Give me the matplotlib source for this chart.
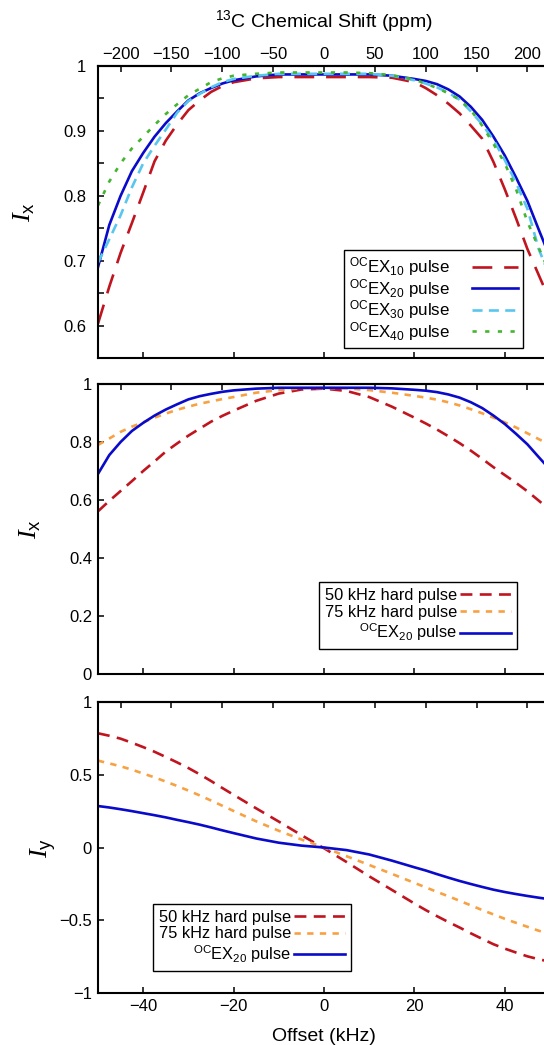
import matplotlib
matplotlib.use("Agg")
import matplotlib.pyplot as plt
from matplotlib.ticker import MultipleLocator, FixedLocator, NullFormatter

plt.rcParams['font.family'] = ['Liberation Sans', 'DejaVu Sans']
plt.rcParams['mathtext.fontset'] = 'custom'
plt.rcParams['mathtext.rm'] = 'Liberation Sans'
plt.rcParams['mathtext.it'] = 'Liberation Serif:italic'
plt.rcParams['mathtext.default'] = 'rm'

# ---------------- data ----------------
offset_khz = [-50, -47.5, -45, -42.5, -40, -37.5, -35, -32.5, -30, -27.5, -25, -22.5, -20,
              -15, -10, -5, 0, 5, 10, 15,
              20, 22.5, 25, 27.5, 30, 32.5, 35, 37.5, 40, 42.5, 45, 47.5, 50]

# panel 1 : Ix of OCEX pulses
ocex10_ix = [0.603, 0.660, 0.712, 0.758, 0.805, 0.853, 0.885, 0.910, 0.932, 0.947, 0.960, 0.969, 0.975,
             0.981, 0.983, 0.983, 0.983, 0.983, 0.983, 0.982,
             0.975, 0.966, 0.955, 0.942, 0.927, 0.908, 0.888, 0.852, 0.810, 0.765, 0.718, 0.678, 0.638]
ocex20_ix = [0.690, 0.755, 0.800, 0.838, 0.866, 0.891, 0.912, 0.930, 0.947, 0.958, 0.966, 0.973, 0.978,
             0.984, 0.987, 0.987, 0.987, 0.987, 0.987, 0.985,
             0.980, 0.977, 0.972, 0.964, 0.953, 0.937, 0.917, 0.891, 0.862, 0.828, 0.792, 0.748, 0.705]
ocex30_ix = [0.697, 0.733, 0.770, 0.813, 0.850, 0.877, 0.902, 0.928, 0.946, 0.957, 0.967, 0.975, 0.980,
             0.985, 0.988, 0.988, 0.988, 0.988, 0.988, 0.985,
             0.978, 0.973, 0.967, 0.959, 0.948, 0.930, 0.910, 0.886, 0.855, 0.820, 0.780, 0.718, 0.675]
ocex40_ix = [0.785, 0.822, 0.850, 0.873, 0.891, 0.909, 0.926, 0.941, 0.955, 0.965, 0.975, 0.981, 0.985,
             0.988, 0.990, 0.990, 0.990, 0.990, 0.989, 0.986,
             0.979, 0.973, 0.966, 0.958, 0.948, 0.932, 0.908, 0.880, 0.850, 0.810, 0.760, 0.720, 0.680]

# panel 2 : Ix of hard pulses
hard50_ix = [0.561, 0.597, 0.631, 0.665, 0.700, 0.733, 0.767, 0.795, 0.822, 0.846, 0.870, 0.890, 0.908,
             0.942, 0.967, 0.981, 0.984, 0.976, 0.955, 0.922,
             0.884, 0.864, 0.843, 0.820, 0.796, 0.770, 0.742, 0.713, 0.686, 0.659, 0.630, 0.598, 0.565]
hard75_ix = [0.790, 0.812, 0.835, 0.853, 0.868, 0.884, 0.898, 0.911, 0.922, 0.932, 0.940, 0.948, 0.955,
             0.970, 0.979, 0.985, 0.986, 0.985, 0.979, 0.970,
             0.959, 0.953, 0.946, 0.937, 0.926, 0.913, 0.899, 0.884, 0.868, 0.850, 0.830, 0.810, 0.790]

# panel 3 : Iy
hard50_iy = [0.785, 0.768, 0.748, 0.720, 0.690, 0.658, 0.622, 0.585, 0.546, 0.503, 0.457, 0.409, 0.362,
             0.269, 0.178, 0.085, -0.005, -0.100, -0.198, -0.291,
             -0.385, -0.430, -0.472, -0.512, -0.550, -0.590, -0.628, -0.665, -0.695, -0.722, -0.748, -0.768, -0.785]
hard75_iy = [0.597, 0.578, 0.558, 0.535, 0.508, 0.482, 0.453, 0.423, 0.391, 0.358, 0.323, 0.287, 0.251,
             0.180, 0.115, 0.055, 0.000, -0.060, -0.120, -0.181,
             -0.243, -0.274, -0.305, -0.335, -0.366, -0.398, -0.430, -0.460, -0.490, -0.518, -0.545, -0.572, -0.595]
ocex20_iy = [0.285, 0.275, 0.263, 0.250, 0.236, 0.222, 0.207, 0.190, 0.174, 0.157, 0.138, 0.118, 0.099,
             0.062, 0.033, 0.013, 0.000, -0.018, -0.048, -0.090,
             -0.136, -0.158, -0.183, -0.207, -0.230, -0.251, -0.271, -0.290, -0.306, -0.320, -0.333, -0.345, -0.356]

khz_ticks = [-40, -20, 0, 20, 40]
ppm_ticks = [-200, -150, -100, -50, 0, 50, 100, 150, 200]
c13_mhz = 225.0

# ---------------- style ----------------
RED = '#C0141F'
BLUE = '#0A0ACB'
CYAN = '#58C6EE'
GREEN = '#44B52E'
ORANGE = '#F8A142'
LW = 1.9

W, H = 544, 1045
fig = plt.figure(figsize=(W / 100, H / 100), dpi=100)

def make_ax(top_px, bot_px):
    return fig.add_axes([98 / W, (H - bot_px) / H, 452 / W, (bot_px - top_px) / H])

ax1 = make_ax(66, 358)
ax2 = make_ax(384, 674)
ax3 = make_ax(702, 993)

def k2p(x):
    return x * 1000.0 / c13_mhz

def p2k(x):
    return x * c13_mhz / 1000.0

for i, ax in enumerate([ax1, ax2, ax3]):
    ax.set_xlim(-50, 50)
    for s in ['left', 'bottom', 'top']:
        ax.spines[s].set_linewidth(1.5)
    ax.spines['right'].set_visible(False)
    ax.xaxis.set_major_locator(FixedLocator(khz_ticks))
    ax.tick_params(axis='both', which='both', direction='in', length=4.5, width=1.1,
                   top=False, right=False, labelsize=12)
    ax.tick_params(axis='x', pad=4.5)
    if i < 2:
        ax.xaxis.set_major_formatter(NullFormatter())
    sec = ax.secondary_xaxis('top', functions=(k2p, p2k))
    sec.xaxis.set_major_locator(FixedLocator(ppm_ticks))
    sec.tick_params(direction='in', length=4.5, width=1.1, labelsize=12, pad=3)
    sec.spines['top'].set_linewidth(1.5)
    if i == 0:
        sec.set_xlabel(r'$^{13}$C Chemical Shift (ppm)', fontsize=14, labelpad=14)
        sec.set_xticklabels([('\u2212%d' % -t) if t < 0 else '%d' % t for t in ppm_ticks])
    else:
        sec.xaxis.set_major_formatter(NullFormatter())

# panel 1
ax1.plot(offset_khz, ocex10_ix, color=RED, lw=LW, dashes=(7.5, 4.5), label=r'$^{\mathrm{OC}}$EX$_{10}$ pulse')
ax1.plot(offset_khz, ocex20_ix, color=BLUE, lw=LW, label=r'$^{\mathrm{OC}}$EX$_{20}$ pulse')
ax1.plot(offset_khz, ocex30_ix, color=CYAN, lw=LW, dashes=(3.8, 2.4), label=r'$^{\mathrm{OC}}$EX$_{30}$ pulse')
ax1.plot(offset_khz, ocex40_ix, color=GREEN, lw=LW, dashes=(1.6, 3.2), label=r'$^{\mathrm{OC}}$EX$_{40}$ pulse')
ax1.set_ylim(0.55, 1.0)
ax1.yaxis.set_major_locator(FixedLocator([0.6, 0.7, 0.8, 0.9, 1.0]))
ax1.yaxis.set_minor_locator(MultipleLocator(0.05))
ax1.set_yticklabels(['0.6', '0.7', '0.8', '0.9', '1'])
ax1.tick_params(axis='y', pad=8.5)
ax1.set_ylabel(r'$\mathit{I}_{\mathrm{x}}$', fontsize=19)
ax1.yaxis.set_label_coords(-0.135, 0.5)
leg1 = ax1.legend(loc='lower right', bbox_to_anchor=(0.940, 0.034), borderaxespad=0,
                  markerfirst=False, fontsize=12.2, handlelength=2.7, handletextpad=1.3,
                  labelspacing=-0.08, fancybox=False, framealpha=1, edgecolor='black',
                  borderpad=0.3)
leg1.get_frame().set_linewidth(1.0)

# panel 2
ax2.plot(offset_khz, hard50_ix, color=RED, lw=LW, dashes=(4.5, 2.8), label='50 kHz hard pulse')
ax2.plot(offset_khz, hard75_ix, color=ORANGE, lw=LW, dashes=(2.4, 2.4), label='75 kHz hard pulse')
ax2.plot(offset_khz, ocex20_ix, color=BLUE, lw=LW, label=r'$^{\mathrm{OC}}$EX$_{20}$ pulse')
ax2.set_ylim(0, 1.0)
ax2.yaxis.set_major_locator(FixedLocator([0, 0.2, 0.4, 0.6, 0.8, 1.0]))
ax2.set_yticklabels(['0', '0.2', '0.4', '0.6', '0.8', '1'])
ax2.tick_params(axis='y', pad=4.3)
ax2.set_ylabel(r'$\mathit{I}_{\mathrm{x}}$', fontsize=19)
ax2.yaxis.set_label_coords(-0.122, 0.5)
leg_kw = dict(markerfirst=False, fontsize=11.8, handlelength=3.1, handletextpad=0.2,
              labelspacing=0.12, fancybox=False, framealpha=1, edgecolor='black',
              borderpad=0.35, borderaxespad=0)
leg2 = ax2.legend(loc='lower right', bbox_to_anchor=(0.927, 0.086), **leg_kw)
leg2.get_frame().set_linewidth(1.0)

# panel 3
ax3.plot(offset_khz, hard50_iy, color=RED, lw=LW, dashes=(4.5, 2.8), label='50 kHz hard pulse')
ax3.plot(offset_khz, hard75_iy, color=ORANGE, lw=LW, dashes=(2.4, 2.4), label='75 kHz hard pulse')
ax3.plot(offset_khz, ocex20_iy, color=BLUE, lw=LW, label=r'$^{\mathrm{OC}}$EX$_{20}$ pulse')
ax3.set_ylim(-1, 1)
ax3.yaxis.set_major_locator(FixedLocator([-1, -0.5, 0, 0.5, 1]))
ax3.set_yticklabels(['\u22121', '\u22120.5', '0', '0.5', '1'])
ax3.set_xticklabels([('\u2212%d' % -t) if t < 0 else '%d' % t for t in khz_ticks])
ax3.tick_params(axis='y', pad=4.3)
ax3.set_ylabel(r'$\mathit{I}_{\mathrm{y}}$', fontsize=19)
ax3.yaxis.set_label_coords(-0.088, 0.5)
ax3.set_xlabel('Offset (kHz)', fontsize=14, labelpad=10)
leg3 = ax3.legend(loc='lower left', bbox_to_anchor=(0.122, 0.076), **leg_kw)
leg3.get_frame().set_linewidth(1.0)

fig.savefig('out.png', dpi=100)
